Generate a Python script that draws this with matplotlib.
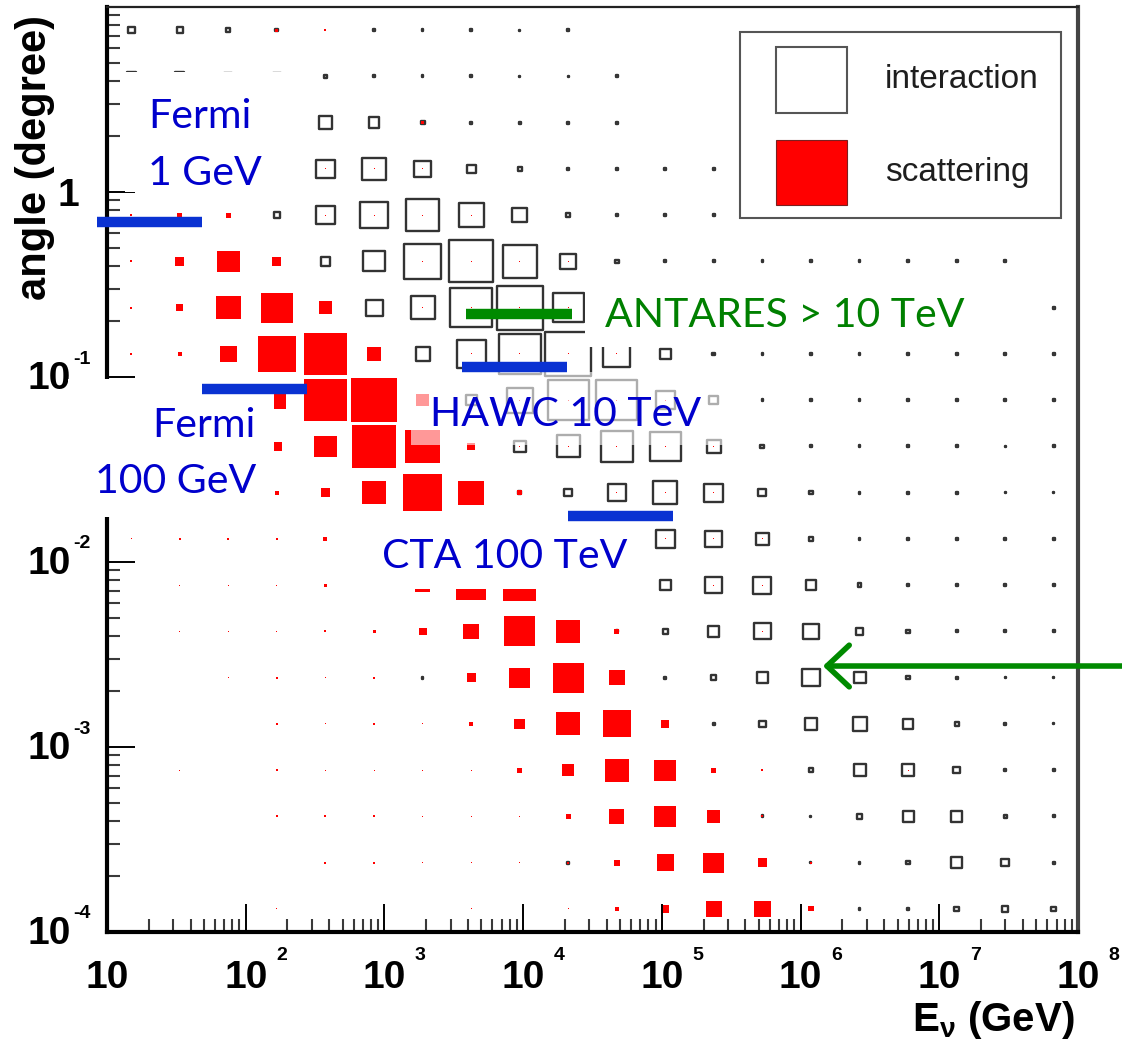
import numpy as np
import matplotlib
matplotlib.use("Agg")
import matplotlib.pyplot as plt
from matplotlib.patches import Rectangle
from matplotlib.collections import PatchCollection
from matplotlib.transforms import blended_transform_factory, ScaledTranslation

plt.rcParams["mathtext.fontset"] = "custom"
plt.rcParams["mathtext.rm"] = "Liberation Sans:bold"
plt.rcParams["mathtext.it"] = "Liberation Sans:bold"

# ---------------------------------------------------------------- binning
# log10(E / GeV) from 10 GeV to 1e8 GeV, log10(angle / degree) from 1e-4 to 10
log_e_edges = np.linspace(1.0, 8.0, 21)
log_a_edges = np.linspace(-4.0, 1.0, 21)

# ---------------------------------------------------------------- contents
# rows go from the largest angle (top) to the smallest angle (bottom),
# columns from the lowest to the highest neutrino energy
interaction = [
    [8, 7, 5, 4, 0, 3, 3, 3, 2, 3, 0, 0, 0, 0, 0, 0, 0, 0, 0, 0],
    [10, 10, 9, 9, 5, 3, 3, 3, 2, 2, 3, 0, 0, 0, 0, 0, 0, 0, 0, 0],
    [10, 10, 10, 10, 14, 12, 5, 3, 3, 3, 3, 0, 0, 0, 0, 0, 0, 0, 0, 0],
    [10, 10, 10, 8, 20, 24, 18, 10, 5, 3, 3, 3, 3, 3, 3, 3, 3, 3, 3, 0],
    [0, 0, 0, 7, 20, 28, 34, 26, 16, 5, 3, 3, 3, 3, 3, 3, 3, 3, 3, 0],
    [0, 0, 0, 0, 10, 22, 38, 45, 35, 17, 5, 3, 3, 3, 3, 3, 3, 3, 3, 0],
    [0, 0, 0, 0, 8, 18, 25, 42, 47, 32, 12, 5, 3, 3, 3, 3, 3, 3, 3, 3],
    [0, 0, 0, 0, 0, 0, 15, 30, 43, 47, 28, 12, 4, 3, 3, 3, 3, 3, 3, 3],
    [0, 0, 0, 0, 0, 0, 0, 12, 27, 42, 42, 20, 10, 3, 3, 3, 3, 3, 3, 3],
    [0, 0, 0, 0, 0, 0, 0, 0, 13, 24, 33, 32, 15, 5, 3, 3, 3, 3, 2, 3],
    [0, 0, 0, 0, 0, 0, 0, 0, 4, 9, 19, 25, 20, 9, 5, 3, 3, 3, 2, 2],
    [0, 0, 0, 0, 0, 0, 0, 0, 0, 3, 14, 20, 18, 14, 6, 3, 3, 3, 3, 3],
    [0, 0, 0, 0, 0, 0, 0, 0, 0, 0, 2, 12, 18, 19, 12, 5, 3, 3, 3, 3],
    [0, 0, 0, 0, 0, 0, 0, 0, 0, 0, 3, 6, 12, 18, 17, 9, 5, 3, 3, 3],
    [0, 0, 0, 0, 0, 0, 3, 0, 0, 0, 0, 3, 6, 12, 19, 13, 5, 3, 2, 2],
    [0, 0, 0, 0, 0, 0, 0, 0, 0, 0, 0, 0, 3, 8, 13, 15, 11, 5, 3, 2],
    [0, 0, 0, 0, 0, 0, 0, 0, 0, 0, 0, 0, 0, 0, 6, 13, 13, 8, 3, 3],
    [0, 0, 0, 0, 0, 0, 0, 0, 0, 0, 0, 0, 0, 3, 2, 6, 12, 12, 4, 3],
    [0, 0, 0, 0, 0, 0, 0, 0, 0, 3, 0, 0, 0, 0, 2, 3, 5, 12, 9, 3],
    [0, 0, 0, 0, 0, 0, 0, 0, 0, 0, 0, 0, 0, 0, 0, 3, 3, 6, 7, 6],
]

scattering = [
    [0, 0, 0, 3, 2, 0, 0, 0, 0, 0, 0, 0, 0, 0, 0, 0, 0, 0, 0, 0],
    [0, 0, 0, 0, 0, 0, 0, 0, 0, 0, 0, 0, 0, 0, 0, 0, 0, 0, 0, 0],
    [0, 0, 0, 0, 0, 0, 3, 0, 0, 0, 0, 0, 0, 0, 0, 0, 0, 0, 0, 0],
    [0, 0, 0, 0, 1, 1, 1, 0, 0, 0, 0, 0, 0, 0, 0, 0, 0, 0, 0, 0],
    [2, 5, 5, 0, 1, 1, 1, 1, 0, 0, 0, 0, 0, 0, 0, 0, 0, 0, 0, 0],
    [2, 9, 22, 9, 0, 0, 1, 1, 1, 1, 0, 0, 0, 0, 0, 0, 0, 0, 0, 0],
    [2, 7, 24, 31, 13, 0, 1, 1, 1, 1, 0, 0, 0, 0, 0, 0, 0, 0, 0, 0],
    [2, 4, 17, 37, 43, 14, 0, 1, 1, 1, 1, 0, 0, 0, 0, 0, 0, 0, 0, 0],
    [2, 3, 6, 18, 43, 45, 13, 0, 1, 1, 1, 1, 0, 0, 0, 0, 0, 0, 0, 0],
    [1, 2, 4, 10, 22, 44, 35, 8, 1, 1, 1, 1, 1, 0, 0, 0, 0, 0, 0, 0],
    [1, 1, 2, 4, 9, 24, 38, 25, 5, 0, 1, 1, 1, 0, 0, 0, 0, 0, 0, 0],
    [1, 2, 2, 2, 4, 8, 26, 34, 20, 5, 0, 1, 1, 1, 0, 0, 0, 0, 0, 0],
    [0, 1, 1, 1, 3, 2, 15, 30, 32, 3, 2, 0, 1, 1, 0, 0, 0, 0, 0, 0],
    [0, 1, 1, 1, 2, 3, 8, 16, 31, 24, 5, 0, 0, 1, 0, 0, 0, 0, 0, 0],
    [0, 0, 1, 2, 1, 2, 0, 9, 21, 31, 16, 0, 0, 0, 0, 0, 0, 0, 0, 0],
    [0, 0, 0, 2, 1, 2, 1, 4, 11, 24, 28, 8, 0, 0, 0, 0, 0, 0, 0, 0],
    [0, 1, 0, 2, 1, 1, 1, 1, 5, 12, 24, 22, 5, 2, 0, 0, 1, 0, 0, 0],
    [0, 0, 0, 2, 2, 2, 1, 1, 1, 5, 15, 22, 13, 2, 0, 0, 0, 0, 0, 0],
    [0, 0, 0, 0, 2, 2, 1, 1, 1, 2, 6, 17, 21, 9, 2, 0, 0, 0, 0, 0],
    [0, 0, 0, 1, 0, 0, 0, 1, 0, 1, 4, 8, 16, 17, 5, 0, 0, 0, 0, 0],
]
full_cell_content = 48.0   # content that fills a whole cell

# ---------------------------------------------------------------- tick labels
x_tick_exponents = [1, 2, 3, 4, 5, 6, 7, 8]
y_tick_exponents = [-4, -3, -2, -1, 0]

# ---------------------------------------------------------------- detector marks
det_labels = ["Fermi 1 GeV", "Fermi 100 GeV", "ANTARES > 10 TeV", "HAWC 10 TeV", "CTA 100 TeV"]
det_e_lo = [8.5, 48.4, 3.87e3, 3.62e3, 2.11e4]      # GeV
det_e_hi = [48.4, 277.0, 2.25e4, 2.07e4, 1.20e5]    # GeV
det_angle = [0.689, 0.0861, 0.218, 0.1126, 0.01773]  # degree
det_colors = ["#0a32d2", "#0a32d2", "#008a00", "#0a32d2", "#0a32d2"]
arrow_tip_energy = 1.45e6    # GeV
arrow_tip_angle = 0.00274    # degree

# ---------------------------------------------------------------- figure
W, H = 1122, 1043
fig = plt.figure(figsize=(W / 100, H / 100), dpi=100)
fig.patch.set_facecolor("white")
AX_L, AX_R, AX_T, AX_B = 107, 1078, 7, 932
ax = fig.add_axes([AX_L / W, 1 - AX_B / H, (AX_R - AX_L) / W, (AX_B - AX_T) / H])
ax.set_xscale("log")
ax.set_yscale("log")
ax.set_xlim(10 ** log_e_edges[0], 10 ** log_e_edges[-1])
ax.set_ylim(10 ** log_a_edges[0], 10 ** log_a_edges[-1])

CELL_PX = 48.0           # cell size on screen
EDGE_LW = 1.7            # outline width of the open boxes, points


def px(x, y):
    """pixel position in the figure -> axes fraction"""
    return (x - AX_L) / (AX_R - AX_L), (AX_B - y) / (AX_B - AX_T)


def boxes(values, inset_px=0.0, **style):
    vals = np.asarray(values, dtype=float)[::-1]   # bottom row first
    hw = 0.5 * (log_e_edges[1] - log_e_edges[0])
    hh = 0.5 * (log_a_edges[1] - log_a_edges[0])
    ce = 0.5 * (log_e_edges[:-1] + log_e_edges[1:])
    ca = 0.5 * (log_a_edges[:-1] + log_a_edges[1:])
    rects = []
    for j in range(vals.shape[0]):
        for i in range(vals.shape[1]):
            v = vals[j, i]
            if v <= 0:
                continue
            f = min(v / full_cell_content, 1.0)
            f = max(f - inset_px / CELL_PX, 1.0 / CELL_PX)
            x0, x1 = 10 ** (ce[i] - f * hw), 10 ** (ce[i] + f * hw)
            y0, y1 = 10 ** (ca[j] - f * hh), 10 ** (ca[j] + f * hh)
            rects.append(Rectangle((x0, y0), x1 - x0, y1 - y0))
    pc = PatchCollection(rects, **style)
    ax.add_collection(pc)


boxes(interaction, inset_px=0.5 * EDGE_LW * 100 / 72, facecolor="none", edgecolor="#333333",
      linewidth=EDGE_LW, zorder=1)
boxes(scattering, facecolor="#ff0000", edgecolor="none", linewidth=0, zorder=1.2)

# ---------------------------------------------------------------- frame and ticks
for side in ("left", "bottom"):
    ax.spines[side].set_linewidth(3.0)
    ax.spines[side].set_color("black")
ax.spines["right"].set_linewidth(3.0)
ax.spines["right"].set_color("#444444")
ax.spines["top"].set_linewidth(1.6)
ax.spines["top"].set_color("#222222")

ax.tick_params(which="both", direction="in", top=False, right=False,
               labelbottom=False, labelleft=False)
ax.tick_params(which="major", length=20, width=1.4, color="black")
ax.tick_params(which="minor", length=9.5, width=1.5, color="#3a3a3a")

tick_font = dict(family="Liberation Sans", weight="bold", color="black")
bx = blended_transform_factory(ax.transData, ax.transAxes)
by = blended_transform_factory(ax.transAxes, ax.transData)
for k in x_tick_exponents:
    ax.text(10.0 ** k, px(0, 978)[1], "10", ha="center", va="center",
            fontsize=28, transform=bx, clip_on=False, **tick_font)
    if k > 1:
        off = ScaledTranslation(36 / 100, 0, fig.dpi_scale_trans)
        ax.text(10.0 ** k, px(0, 956)[1], str(k), ha="center", va="center",
                fontsize=14, transform=bx + off, clip_on=False, **tick_font)
for k in y_tick_exponents:
    if k == 0:
        off = ScaledTranslation(0, -4 / 100, fig.dpi_scale_trans)
        ax.text(px(79, 0)[0], 1.0, "1", ha="right", va="center",
                fontsize=28, transform=by + off, clip_on=False, **tick_font)
        continue
    off = ScaledTranslation(0, -2 / 100, fig.dpi_scale_trans)
    ax.text(px(71, 0)[0], 10.0 ** k, "10", ha="right", va="center",
            fontsize=28, transform=by + off, clip_on=False, **tick_font)
    off = ScaledTranslation(0, 18 / 100, fig.dpi_scale_trans)
    ax.text(px(73, 0)[0], 10.0 ** k, "-%d" % (-k), ha="left", va="center",
            fontsize=14, transform=by + off, clip_on=False, **tick_font)

# axis titles
fig.text(35 / W, 1 - 15 / H, "angle (degree)", rotation=90, ha="center", va="top",
         fontsize=30, family="Liberation Sans", weight="bold")
fig.text(1075 / W, 1 - 1020 / H, r"E$_{\nu}$ (GeV)", ha="right", va="center",
         fontsize=29, family="Liberation Sans", weight="bold")

# ---------------------------------------------------------------- legend
def px_rect(x0, y0, x1, y1, **kw):
    a0 = px(x0, y1)
    a1 = px(x1, y0)
    r = Rectangle(a0, a1[0] - a0[0], a1[1] - a0[1], transform=ax.transAxes,
                  clip_on=False, **kw)
    ax.add_patch(r)
    return r


px_rect(740, 32, 1061, 218, facecolor="white", edgecolor="#555555", linewidth=1.5, zorder=3)
px_rect(776, 47, 847, 113, facecolor="white", edgecolor="#555555", linewidth=1.5, zorder=3.1)
px_rect(776, 140, 847, 205, facecolor="#ff0000", edgecolor="#7a2020", linewidth=0.8, zorder=3.1)
leg_font = dict(family="Liberation Sans", fontsize=24, color="#1e1e1e", zorder=3.2,
                transform=ax.transAxes, ha="left", va="center")
ax.text(*px(885, 80), "interaction", **leg_font)
ax.text(*px(885, 172), "scattering", **leg_font)

# ---------------------------------------------------------------- overlay text boxes
px_rect(125, 72, 312, 192, facecolor="white", edgecolor="none", zorder=3)
px_rect(68, 379, 274, 517, facecolor="white", edgecolor="none", zorder=3)
px_rect(585, 285, 1030, 347, facecolor="white", edgecolor="none", zorder=3)
px_rect(411, 372, 735, 445, facecolor="white", edgecolor="none", alpha=0.6, zorder=3)
px_rect(364, 522, 648, 589, facecolor="white", edgecolor="none", zorder=3)

for lo, hi, ang, col in zip(det_e_lo, det_e_hi, det_angle, det_colors):
    ax.plot([lo, hi], [ang, ang], color=col, linewidth=7.5, solid_capstyle="butt",
            clip_on=False, zorder=5)

ann = dict(family="Lato", fontsize=29.5, transform=ax.transAxes, va="baseline", zorder=6)
blue, green = "#0000cc", "#008000"
ax.text(*px(148, 128), "Fermi", ha="left", color=blue, **ann)
ax.text(*px(148, 185), "1 GeV", ha="left", color=blue, **ann)
ax.text(*px(256, 437), "Fermi", ha="right", color=blue, **ann)
ax.text(*px(256, 493), "100 GeV", ha="right", color=blue, **ann)
ax.text(*px(605, 327), "ANTARES > 10 TeV", ha="left", color=green, **ann)
ax.text(*px(430, 426), "HAWC 10 TeV", ha="left", color=blue, **ann)
ax.text(*px(382, 568), "CTA 100 TeV", ha="left", color=blue, **ann)

ax.annotate("", xy=(arrow_tip_energy, arrow_tip_angle),
            xytext=(10 ** 8.35, arrow_tip_angle),
            arrowprops=dict(arrowstyle="->,head_length=0.8,head_width=0.75",
                            color="#008a00", linewidth=4.0, mutation_scale=20,
                            shrinkA=0, shrinkB=0),
            annotation_clip=False, zorder=6)

fig.savefig("out.png", dpi=100, facecolor="white")
